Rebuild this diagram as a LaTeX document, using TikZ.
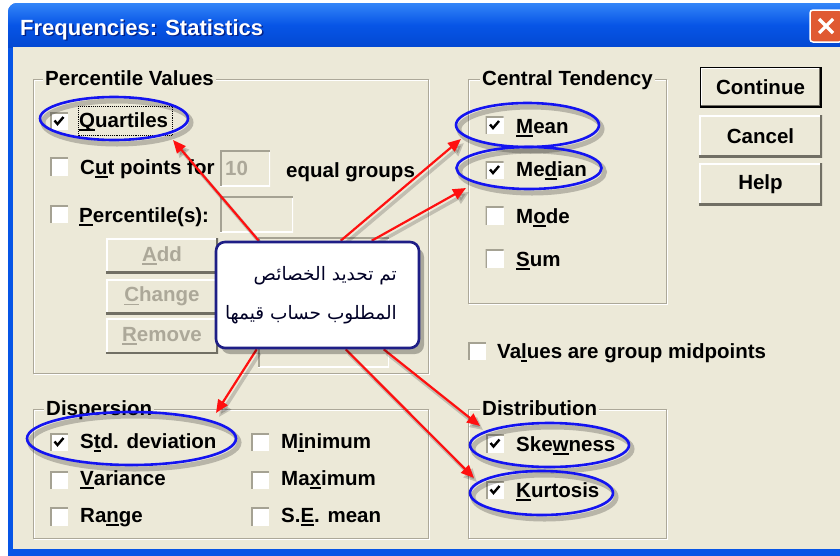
\documentclass[tikz,border=0pt]{standalone}
\usepackage{fontspec}
\setmainfont{Liberation Sans}
\newfontfamily\arabicfont[Script=Arabic]{DejaVu Sans}
\TeXXeTstate=1
\usetikzlibrary{arrows.meta,shapes.geometric,calc}
\pgfdeclarelayer{front}
\pgfsetlayers{main,front}

\definecolor{dlgbg}{HTML}{ECE9D8}
\definecolor{etch}{HTML}{ACA899}
\definecolor{xpblue}{HTML}{0755E6}
\definecolor{xpblueL}{HTML}{3385F8}
\definecolor{xpblueD}{HTML}{0348D2}
\definecolor{closeR}{HTML}{E05A32}
\definecolor{ringblue}{HTML}{1414F0}
\definecolor{noteedge}{HTML}{1E1E86}
\definecolor{dimtext}{HTML}{ACA899}
\definecolor{boxedge}{HTML}{A5A293}
\definecolor{btndark}{HTML}{716F64}
\definecolor{arrred}{HTML}{FF1010}

% access-key underline under one letter
\newcommand\mnem[1]{\setbox0\hbox{#1}\rlap{\rule[-3.6pt]{\wd0}{1.6pt}}\box0}

\begin{document}
\begin{tikzpicture}[x=1pt,y=-1pt,
  dlgfont/.style={font=\fontsize{20.5}{24}\selectfont\bfseries},
  txt/.style={anchor=base west, inner sep=0pt, dlgfont},
  dimtxt/.style={txt, text=dimtext},
  lbl/.style={anchor=base west, inner xsep=2pt, inner ysep=1pt, fill=dlgbg, dlgfont},
  chkbox/.style={rectangle, fill=white, minimum size=18pt, inner sep=0pt,
    path picture={\draw[boxedge, line width=3.5pt]
      (path picture bounding box.south west) -- (path picture bounding box.north west)
      -- (path picture bounding box.north east);}},
  ticked/.style={chkbox,
    path picture={\draw[boxedge, line width=3.5pt]
      (path picture bounding box.south west) -- (path picture bounding box.north west)
      -- (path picture bounding box.north east);
      \draw[black, line width=2.4pt, shift={(path picture bounding box.center)}]
      (-4.5,-0.5) -- (-1.5,3) -- (4.5,-4);}},
  btn/.style={rectangle, fill=dlgbg, inner sep=0pt, dlgfont,
    path picture={\draw[white, line width=3pt]
      (path picture bounding box.south west) -- (path picture bounding box.north west)
      -- (path picture bounding box.north east);
      \draw[btndark, line width=3.5pt]
      (path picture bounding box.south west) -- (path picture bounding box.south east)
      -- (path picture bounding box.north east);}},
  sunken/.style={rectangle, fill=dlgbg, inner sep=0pt,
    path picture={\draw[white, line width=3pt]
      (path picture bounding box.south west) -- (path picture bounding box.south east)
      -- (path picture bounding box.north east);
      \draw[boxedge, line width=3pt]
      (path picture bounding box.south west) -- (path picture bounding box.north west)
      -- (path picture bounding box.north east);}},
  ring/.style={ellipse, draw=ringblue, line width=2.6pt, inner sep=0pt,
    preaction={draw=black, opacity=.22, line width=5pt,
      transform canvas={xshift=3pt,yshift=-4pt}}},
  pointer/.style={draw=arrred, line width=2.2pt,
    -{Triangle[length=13pt,width=11pt]}},
  pointershadow/.style={draw=black, opacity=.18, line width=3.5pt,
    -{Triangle[length=13pt,width=12pt]},
    transform canvas={xshift=3pt,yshift=-4pt}},
  notebox/.style={rectangle, rounded corners=9pt, draw=noteedge, line width=2.6pt,
    fill=white, minimum width=203pt, minimum height=106pt,
    preaction={fill=black, opacity=.28, transform canvas={xshift=5pt,yshift=-6pt}}},
  notetext/.style={anchor=east, inner sep=0pt, text=black!85!blue,
    font=\arabicfont\fontsize{18.5}{22}\selectfont}
]
\useasboundingbox (0,0) rectangle (840,555);
\clip (0,0) rectangle (840,555);
\fill[white] (0,0) rectangle (840,555);

% window frame and title bar
\fill[xpblue, rounded corners=9pt] (8,3) rectangle (900,620);
\begin{scope}
  \clip[rounded corners=9pt] (8,3) rectangle (900,620);
  \shade[top color=xpblueL, bottom color=xpblueD, middle color=xpblue] (8,3) rectangle (900,47);
\end{scope}
\fill[dlgbg] (13,47) rectangle (840,549);

\node[anchor=base west, inner sep=0pt, text=black!70!blue, opacity=.6,
  font=\fontsize{22}{26}\selectfont\bfseries] at (21.5,36.5) {Frequencies: Statistics};
\node[anchor=base west, inner sep=0pt, text=white,
  font=\fontsize{22}{26}\selectfont\bfseries] (title) at (20,35) {Frequencies: Statistics};

\node[rectangle, rounded corners=3pt, fill=closeR, draw=white, line width=1.5pt,
  minimum width=32pt, minimum height=32pt] (closebtn) at (826,26) {};
\draw[white, line width=3.2pt] ($(closebtn.center)+(-7,-7)$) -- ($(closebtn.center)+(7,7)$)
  ($(closebtn.center)+(-7,7)$) -- ($(closebtn.center)+(7,-7)$);

% group boxes (etched frames)
\foreach \xa/\ya/\xb/\yb in {33/79/428/373, 468/79/666/303, 33/409/428/538, 468/409/666/538}{
  \draw[white, line width=1pt] (\xa+1,\ya+1) rectangle (\xb+1,\yb+1);
  \draw[etch, line width=1pt] (\xa,\ya) rectangle (\xb,\yb);
}
\node[lbl] (lblPV) at (43,85) {Percentile Values};
\node[lbl] (lblCT) at (480,85) {Central Tendency};
\node[lbl] (lblDisp) at (44,415) {Dispersion};
\node[lbl] (lblDist) at (480,415) {Distribution};

% Percentile Values
\node[ticked] (cbQuart) at (59,121) {};
\node[txt] (tQuart) at (79,127) {\mnem{Q}uartiles};
\draw[black, densely dotted, line width=0.9pt] (78,106) rectangle (172,135);
\node[chkbox] (cbCut) at (59,166.5) {};
\node[txt] (tCut) at (80,174) {C\mnem{u}t points for};
\node[sunken, minimum width=50pt, minimum height=36pt] (boxTen) at (245,168) {};
\node[dimtxt] (tTen) at (225,175) {10};
\node[txt] (tEqual) at (286,177) {equal groups};
\node[chkbox] (cbPct) at (59,214) {};
\node[txt] (tPct) at (79,222) {\mnem{P}ercentile(s):};
\node[sunken, minimum width=73pt, minimum height=36pt] (boxPct) at (256.5,214) {};
\node[btn, minimum width=112pt, minimum height=35pt, text=dimtext] (bAdd) at (162,255.5) {\mnem{A}dd};
\node[btn, minimum width=112pt, minimum height=35pt, text=dimtext] (bChange) at (162,296.5) {\mnem{C}hange};
\node[btn, minimum width=112pt, minimum height=35pt, text=dimtext] (bRemove) at (162,336) {\mnem{R}emove};
\node[sunken, minimum width=131pt, minimum height=130pt] (pctList) at (323.5,302) {};

% Central Tendency
\node[ticked] (cbMean) at (494.5,125) {};
\node[txt] (tMean) at (516,133) {\mnem{M}ean};
\node[ticked] (cbMedian) at (494.5,170) {};
\node[txt] (tMedian) at (516,176) {Me\mnem{d}ian};
\node[chkbox] (cbMode) at (494.5,215.5) {};
\node[txt] (tMode) at (516,223) {M\mnem{o}de};
\node[chkbox] (cbSum) at (494.5,258.5) {};
\node[txt] (tSum) at (516,266) {\mnem{S}um};

\node[chkbox] (cbMid) at (477,351) {};
\node[txt] (tMid) at (497,358) {Va\mnem{l}ues are group midpoints};

% command buttons
\node[btn, minimum width=120pt, minimum height=39pt] (bCont) at (760.5,87) {Continue};
\draw[black, line width=1.6pt] (bCont.north west) rectangle (bCont.south east);
\node[btn, minimum width=123pt, minimum height=42pt] (bCancel) at (760.5,136) {Cancel};
\node[btn, minimum width=123pt, minimum height=42pt] (bHelp) at (760.5,184) {Help};

% Dispersion
\node[ticked] (cbStd) at (59,442) {};
\node[txt] (tStd) at (80,448) {S\mnem{t}d. deviation};
\node[chkbox] (cbVar) at (59,480) {};
\node[txt] (tVar) at (80,485) {\mnem{V}ariance};
\node[chkbox] (cbRange) at (59,516.5) {};
\node[txt] (tRange) at (80,522) {Ra\mnem{n}ge};
\node[chkbox] (cbMin) at (260,442) {};
\node[txt] (tMin) at (281,448) {M\mnem{i}nimum};
\node[chkbox] (cbMax) at (260,480) {};
\node[txt] (tMax) at (281,485) {Ma\mnem{x}imum};
\node[chkbox] (cbSE) at (260,516.5) {};
\node[txt] (tSE) at (281,522) {S.\mnem{E}. mean};

% Distribution
\node[ticked] (cbSkew) at (495,443.5) {};
\node[txt] (tSkew) at (516,451) {Ske\mnem{w}ness};
\node[ticked] (cbKurt) at (495,490) {};
\node[txt] (tKurt) at (516,497) {\mnem{K}urtosis};

% highlight rings
\node[ring, minimum width=148pt, minimum height=43pt] (ringQuart) at (114,118.5) {};
\node[ring, minimum width=143pt, minimum height=44pt] (ringMean) at (527.5,125) {};
\node[ring, minimum width=145pt, minimum height=42pt] (ringMedian) at (529,168) {};
\node[ring, minimum width=209pt, minimum height=53pt] (ringStd) at (131.5,438.5) {};
\node[ring, minimum width=159pt, minimum height=44pt] (ringSkew) at (549.5,445) {};
\node[ring, minimum width=143pt, minimum height=44pt] (ringKurt) at (541.5,493) {};

% note (on the front layer) and its pointers
\begin{pgfonlayer}{front}
\node[notebox] (note) at (317.5,295) {};
\node[notetext] (noteLineA) at (397,276) {\beginR تم تحديد الخصائص\endR};
\node[notetext] (noteLineB) at (397,315) {\beginR المطلوب حساب قيمها\endR};
\end{pgfonlayer}

\coordinate (sQuart) at ($(note.north west)+(44,0)$);
\coordinate (sMean) at ($(note.north west)+(126,0)$);
\coordinate (sMedian) at ($(note.north west)+(157,0)$);
\coordinate (sStd) at ($(note.south west)+(42,0)$);
\coordinate (sKurt) at ($(note.south west)+(131,0)$);
\coordinate (sSkew) at ($(note.south west)+(169,0)$);
\coordinate (tipQuart) at (173,140);
\coordinate (tipMean) at (461,139);
\coordinate (tipMedian) at (466,188);
\coordinate (tipStd) at (216,413);
\coordinate (tipSkew) at (480,426);
\coordinate (tipKurt) at (474,478);

\foreach \s/\t in {sQuart/tipQuart, sMean/tipMean, sMedian/tipMedian,
                   sStd/tipStd, sKurt/tipKurt, sSkew/tipSkew}{
  \draw[pointershadow] (\s) -- (\t);
}
\foreach \s/\t in {sQuart/tipQuart, sMean/tipMean, sMedian/tipMedian,
                   sStd/tipStd, sKurt/tipKurt, sSkew/tipSkew}{
  \draw[pointer] (\s) -- (\t);
}
\end{tikzpicture}
\end{document}
